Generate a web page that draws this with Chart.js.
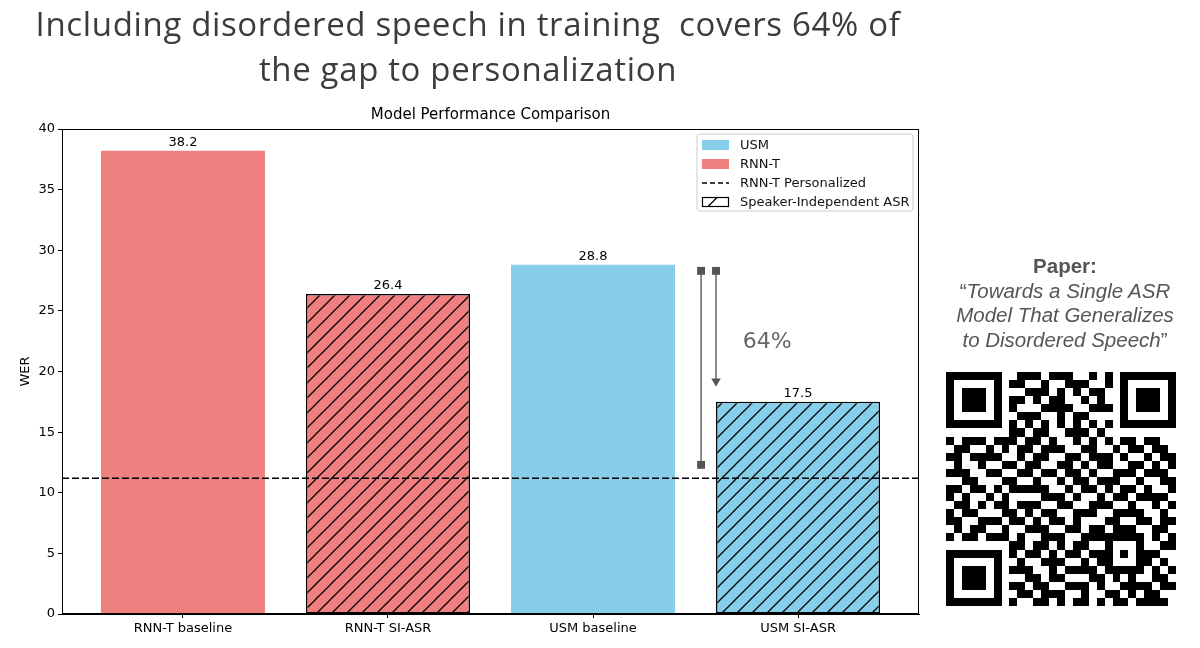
<!DOCTYPE html>
<html>
<head>
<meta charset="utf-8">
<script src="https://cdn.jsdelivr.net/npm/chart.js@4.4.1/dist/chart.umd.min.js"></script>
<style>
  body { margin: 0; width: 1200px; height: 648px; background: #fff; overflow: hidden; position: relative; }
  #chartBox { position: absolute; left: 0; top: 0; width: 1200px; height: 648px; }
  #heading { position: absolute; left: 0; top: 1px; width: 936px; text-align: center;
    font-family: "Open Sans", sans-serif; font-size: 33px; letter-spacing: 0.65px; line-height: 45px; color: #3c3c3c; }
  #paper { position: absolute; left: 950px; top: 254px; width: 230px; text-align: center;
    font-family: "Liberation Sans", Arial, sans-serif; font-size: 20.5px; line-height: 24.7px; color: #555; }
  #paper b { font-weight: bold; }
  #paper i { font-style: italic; }
  #qr { position: absolute; left: 946px; top: 372px; }
</style>
</head>
<body>
<canvas id="chartBox" width="1200" height="648"></canvas>
<div id="heading">Including disordered speech in training&nbsp; covers 64% of<br>the gap to personalization</div>
<div id="paper"><b>Paper:</b><br>“<i>Towards a Single ASR<br>Model That Generalizes<br>to Disordered Speech</i>”</div>
<canvas id="qr" width="230" height="234"></canvas>

<script>
// chart data
const categories = ["RNN-T baseline", "RNN-T SI-ASR", "USM baseline", "USM SI-ASR"];
const werValues = [38.2, 26.4, 28.8, 17.5];
const modelFamily = ["RNN-T", "RNN-T", "USM", "USM"];
const speakerIndependent = [false, true, false, true];
const personalizedWer = [11.2, 11.2];
const yTicks = [0, 5, 10, 15, 20, 25, 30, 35, 40];
const legendLabels = ["USM", "RNN-T", "RNN-T Personalized", "Speaker-Independent ASR"];

// gap annotation (USM baseline -> personalized, and USM baseline -> USM SI-ASR)
const gapLineX = [2.527, 2.527];
const gapLineY = [28.3, 12.3];
const coveredLineX = [2.6, 2.6];
const coveredLineY = [28.3, 19.2];
const gapText = "64%";
const gapTextPos = [2.85, 22.4];

const familyColors = { "USM": "#87CEEB", "RNN-T": "#F08080" };
const xMin = -0.59, xMax = 3.59;

function hatch(color) {
  const c = document.createElement("canvas");
  c.width = 15; c.height = 15;
  const g = c.getContext("2d");
  g.fillStyle = color;
  g.fillRect(0, 0, 15, 15);
  g.strokeStyle = "#000";
  g.lineWidth = 1.25;
  g.beginPath();
  g.moveTo(-2, 17); g.lineTo(17, -2);
  g.moveTo(-2, 2); g.lineTo(2, -2);
  g.moveTo(13, 17); g.lineTo(17, 13);
  g.stroke();
  return g.createPattern(c, "repeat");
}

const barFills = categories.map((_, i) => {
  const col = familyColors[modelFamily[i]];
  return speakerIndependent[i] ? hatch(col) : col;
});

const extrasPlugin = {
  id: "extras",
  afterDatasetsDraw(chart) {
    const ctx = chart.ctx;
    const a = chart.chartArea;
    const xs = chart.scales.x, ys = chart.scales.y;
    ctx.save();

    // frame (top/right spines)
    ctx.strokeStyle = "#000";
    ctx.lineWidth = 1;
    ctx.strokeRect(a.left + 0.5, a.top + 0.5, a.right - a.left - 1, a.bottom - a.top - 1);

    // value labels
    ctx.fillStyle = "#000";
    ctx.font = "13px 'DejaVu Sans'";
    ctx.textAlign = "center";
    ctx.textBaseline = "bottom";
    chart.getDatasetMeta(0).data.forEach((el, i) => {
      ctx.fillText(werValues[i].toFixed(1), el.x, el.y - 2);
    });

    // title
    ctx.font = "15px 'DejaVu Sans'";
    ctx.textBaseline = "middle";
    ctx.fillText("Model Performance Comparison", (a.left + a.right) / 2, a.top - 14);

    // gap text
    ctx.fillStyle = "#666";
    ctx.font = "22px 'DejaVu Sans'";
    ctx.fillText(gapText, xs.getPixelForValue(gapTextPos[0]), ys.getPixelForValue(gapTextPos[1]));

    // legend
    const lx = a.right - 222, ly = a.top + 5, lw = 216, lh = 77;
    ctx.fillStyle = "rgba(255,255,255,0.85)";
    ctx.strokeStyle = "#cccccc";
    ctx.beginPath();
    ctx.roundRect(lx, ly, lw, lh, 3);
    ctx.fill();
    ctx.stroke();
    ctx.font = "13px 'DejaVu Sans'";
    ctx.textAlign = "left";
    ctx.textBaseline = "middle";
    legendLabels.forEach((label, i) => {
      const cy = ly + 11 + i * 19;
      const sx = lx + 5, sw = 27;
      if (i === 0 || i === 1) {
        ctx.fillStyle = familyColors[label];
        ctx.fillRect(sx, cy - 5, sw, 10);
      } else if (i === 2) {
        ctx.strokeStyle = "#000";
        ctx.lineWidth = 1.5;
        ctx.setLineDash([5, 3]);
        ctx.beginPath();
        ctx.moveTo(sx, cy); ctx.lineTo(sx + sw, cy);
        ctx.stroke();
        ctx.setLineDash([]);
      } else {
        ctx.fillStyle = "#fff";
        ctx.fillRect(sx, cy - 5, sw, 10);
        ctx.strokeStyle = "#000";
        ctx.lineWidth = 1.2;
        ctx.strokeRect(sx + 0.5, cy - 4.5, sw - 1, 9);
        ctx.beginPath();
        ctx.moveTo(sx + 6, cy + 4.5); ctx.lineTo(sx + 15, cy - 4.5);
        ctx.stroke();
      }
      ctx.fillStyle = "#111";
      ctx.fillText(label, lx + 43, cy + 1);
    });
    ctx.restore();
  }
};

new Chart(document.getElementById("chartBox"), {
  type: "bar",
  data: {
    datasets: [
      {
        type: "bar",
        data: werValues.map((v, i) => ({ x: i, y: v })),
        backgroundColor: barFills,
        borderColor: "#000",
        borderWidth: speakerIndependent.map(s => s ? 1.5 : 0),
        borderSkipped: false,
        barPercentage: 0.8,
        categoryPercentage: 1,
        order: 3
      },
      {
        type: "line",
        data: [{ x: xMin, y: personalizedWer[0] }, { x: xMax, y: personalizedWer[1] }],
        borderColor: "#000",
        borderWidth: 1.6,
        borderDash: [7, 3],
        pointRadius: 0,
        order: 0
      },
      {
        type: "line",
        data: gapLineX.map((x, i) => ({ x, y: gapLineY[i] })),
        borderColor: "#666",
        borderWidth: 1.5,
        pointStyle: "rect",
        pointRadius: 5.6,
        pointBackgroundColor: "#555",
        pointBorderWidth: 0,
        order: 1
      },
      {
        type: "line",
        data: coveredLineX.map((x, i) => ({ x, y: coveredLineY[i] })),
        borderColor: "#666",
        borderWidth: 1.5,
        pointStyle: ["rect", "triangle"],
        pointRotation: [0, 180],
        pointRadius: [5.6, 5.5],
        pointBackgroundColor: "#555",
        pointBorderWidth: 0,
        order: 1
      }
    ]
  },
  options: {
    responsive: false,
    animation: false,
    devicePixelRatio: 1,
    layout: { padding: { left: 0, top: 129, right: 281, bottom: 0 } },
    plugins: { legend: { display: false }, tooltip: { enabled: false }, title: { display: false } },
    scales: {
      x: {
        type: "linear",
        min: xMin, max: xMax,
        offset: false,
        grid: { display: true, drawOnChartArea: false, offset: false, color: "#000", tickLength: 4 },
        border: { display: true, color: "#000", width: 1 },
        afterBuildTicks: s => { s.ticks = categories.map((_, i) => ({ value: i })); },
        afterFit: s => { s.height = 34; },
        ticks: {
          autoSkip: false, maxRotation: 0, padding: 3,
          color: "#000", font: { family: "DejaVu Sans", size: 13 },
          callback: v => categories[v]
        }
      },
      y: {
        min: 0, max: 40,
        grid: { display: true, drawOnChartArea: false, color: "#000", tickLength: 4 },
        border: { display: true, color: "#000", width: 1 },
        afterBuildTicks: s => { s.ticks = yTicks.map(v => ({ value: v })); },
        afterFit: s => { s.width = 62; },
        title: { display: true, text: "WER", color: "#000", font: { family: "DejaVu Sans", size: 13 }, padding: { top: 18 } },
        ticks: { padding: 3, color: "#000", font: { family: "DejaVu Sans", size: 13 } }
      }
    }
  },
  plugins: [extrasPlugin]
});

// QR code picture
const qrRows = [
  "1111111001 1101110010 101111111",
  "1000001011 0010011100 101000001",
  "1011101000 1110101011 001011101",
  "1011101011 0101100101 001011101",
  "1011101010 0011110011 101011101",
  "1000001001 1100101100 001000001",
  "1111111010 1010101010 101111111",
  "0000000011 0110011101 000000000",
  "1011101110 1101001010 101101100",
  "0110010101 1011100110 010110110",
  "1101111001 0110011011 101001011",
  "0100100110 1100110101 100110101",
  "1110011001 1011011010 011101110",
  "0011000110 0100101101 110010011",
  "1101101011 1110010110 101101001",
  "1010010100 0011101001 011011110",
  "0110101101 1100110011 100100101",
  "1011000110 1011001110 011110010",
  "1100111011 0101101000 110011011",
  "0101100100 1110011011 011100110",
  "1011011101 0011100111 111110101",
  "0000000011 0110101100 100010011",
  "1111111010 1101011011 101011100",
  "1000001001 0011100101 100011010",
  "1011101011 1001011110 111110101",
  "1011101000 1101100011 010100110",
  "1011101011 0110011101 001111011",
  "1000001001 1011100100 110101100",
  "1111111010 0110101101 011011110"
];
(function drawQr() {
  const n = 29;
  const m = qrRows.map(r => r.replace(/ /g, "").split("").map(ch => ch === "1"));
  function finder(r0, c0) {
    for (let i = -1; i <= 7; i++) for (let j = -1; j <= 7; j++) {
      const r = r0 + i, c = c0 + j;
      if (r < 0 || c < 0 || r >= n || c >= n) continue;
      const inside = i >= 0 && i <= 6 && j >= 0 && j <= 6;
      m[r][c] = inside && (i === 0 || i === 6 || j === 0 || j === 6 || (i >= 2 && i <= 4 && j >= 2 && j <= 4));
    }
  }
  finder(0, 0); finder(0, n - 7); finder(n - 7, 0);
  for (let k = 8; k < n - 8; k++) { m[6][k] = k % 2 === 0; m[k][6] = k % 2 === 0; }
  for (let i = -2; i <= 2; i++) for (let j = -2; j <= 2; j++) {
    m[22 + i][22 + j] = Math.max(Math.abs(i), Math.abs(j)) !== 1;
  }
  const cv = document.getElementById("qr");
  const g = cv.getContext("2d");
  const mw = cv.width / n, mh = cv.height / n;
  g.fillStyle = "#000";
  for (let r = 0; r < n; r++) for (let c = 0; c < n; c++) {
    if (!m[r][c]) continue;
    const x0 = Math.round(c * mw), x1 = Math.round((c + 1) * mw);
    const y0 = Math.round(r * mh), y1 = Math.round((r + 1) * mh);
    g.fillRect(x0, y0, x1 - x0, y1 - y0);
  }
})();
</script>
</body>
</html>
